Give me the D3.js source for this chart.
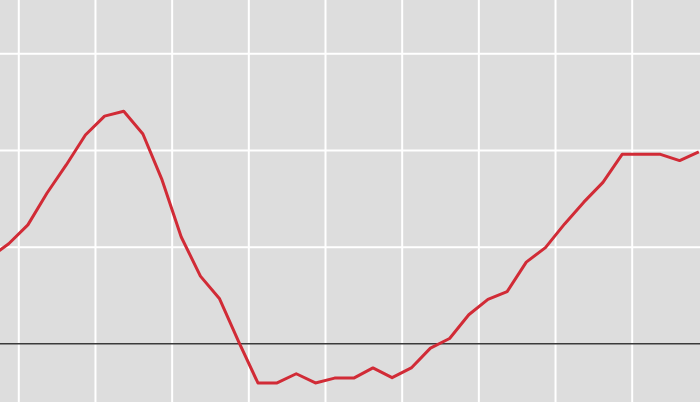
<!DOCTYPE html>
<html>
<head>
<meta charset="utf-8">
<script src="https://cdn.jsdelivr.net/npm/d3@7"></script>
<style>
  html, body { margin: 0; padding: 0; background: #dddddd; }
  svg { display: block; }
</style>
</head>
<body>
<svg id="chart" width="700" height="402"></svg>
<script>
// Quarterly periods (1999 Q3 .. 2008 Q4)
const quarters = [
  "1999-Q3","1999-Q4",
  "2000-Q1","2000-Q2","2000-Q3","2000-Q4",
  "2001-Q1","2001-Q2","2001-Q3","2001-Q4",
  "2002-Q1","2002-Q2","2002-Q3","2002-Q4",
  "2003-Q1","2003-Q2","2003-Q3","2003-Q4",
  "2004-Q1","2004-Q2","2004-Q3","2004-Q4",
  "2005-Q1","2005-Q2","2005-Q3","2005-Q4",
  "2006-Q1","2006-Q2","2006-Q3","2006-Q4",
  "2007-Q1","2007-Q2","2007-Q3","2007-Q4",
  "2008-Q1","2008-Q2","2008-Q3","2008-Q4"
];
const values = [
  1.77, 2.06,
  2.45, 3.11, 3.69, 4.31,
  4.70, 4.80, 4.33, 3.38,
  2.20, 1.39, 0.92, 0.03,
  -0.82, -0.82, -0.63, -0.82,
  -0.72, -0.72, -0.51, -0.71,
  -0.51, -0.10, 0.10, 0.59,
  0.91, 1.07, 1.68, 1.98,
  2.47, 2.92, 3.33, 3.91,
  3.91, 3.91, 3.78, 3.96
];
const xTicks = [2000, 2001, 2002, 2003, 2004, 2005, 2006, 2007, 2008];
const yTicks = [-2, 0, 2, 4, 6, 8];

const W = 700, H = 402;
const svg = d3.select("#chart");

// quarter label -> decimal time at the middle of the quarter
const toTime = q => {
  const [y, qq] = q.split("-Q");
  return +y + (+qq - 0.5) / 4;
};
const data = quarters.map((q, i) => ({ t: toTime(q), v: values[i] }));

const x = d3.scaleLinear().domain([2000, 2008]).range([18.3, 631.7]);
const y = d3.scaleLinear().domain([0, 6]).range([343.3, 53.3]);

svg.append("rect").attr("width", W).attr("height", H).attr("fill", "#dddddd");

// vertical grid
const gx = svg.append("g")
  .call(d3.axisBottom(x).tickValues(xTicks).tickSize(H).tickFormat(""));
gx.select(".domain").remove();
gx.selectAll(".tick line").attr("stroke", "#ffffff").attr("stroke-width", 2);

// horizontal grid
const gy = svg.append("g")
  .call(d3.axisRight(y).tickValues(yTicks).tickSize(W).tickFormat(""));
gy.select(".domain").remove();
gy.selectAll(".tick line")
  .attr("stroke", d => d === 0 ? "#3a3a3a" : "#ffffff")
  .attr("stroke-width", d => d === 0 ? 1.4 : 2);

svg.append("clipPath").attr("id", "clip")
  .append("rect").attr("width", W).attr("height", H);

const line = d3.line().x(d => x(d.t)).y(d => y(d.v));
svg.append("path")
  .datum(data)
  .attr("clip-path", "url(#clip)")
  .attr("fill", "none")
  .attr("stroke", "#d12b36")
  .attr("stroke-width", 3)
  .attr("stroke-linejoin", "round")
  .attr("d", line);
</script>
</body>
</html>
